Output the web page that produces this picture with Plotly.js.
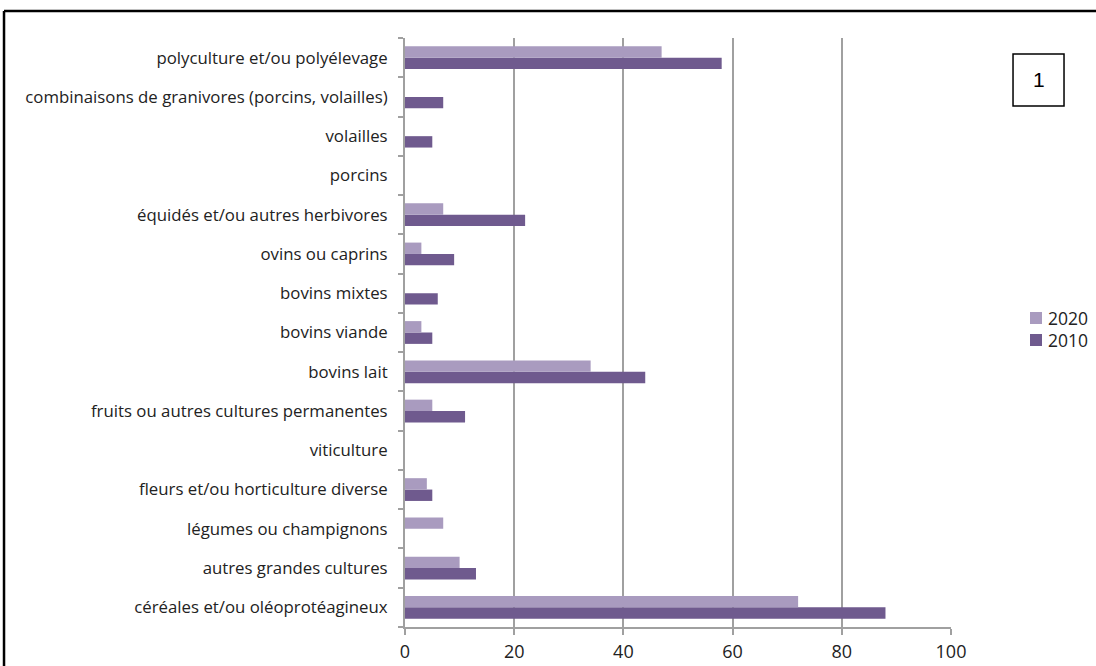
<!DOCTYPE html>
<html><head><meta charset="utf-8">
<script src="https://cdn.plot.ly/plotly-3.0.1.min.js"></script>
<style>html,body{margin:0;padding:0;background:#fff;}#chart{width:1096px;height:666px;}</style>
</head><body><div id="chart"></div>
<script>
const categories = [
  "céréales et/ou oléoprotéagineux",
  "autres grandes cultures",
  "légumes ou champignons",
  "fleurs et/ou horticulture diverse",
  "viticulture",
  "fruits ou autres cultures permanentes",
  "bovins lait",
  "bovins viande",
  "bovins mixtes",
  "ovins ou caprins",
  "équidés et/ou autres herbivores",
  "porcins",
  "volailles",
  "combinaisons de granivores (porcins, volailles)",
  "polyculture et/ou polyélevage"
];
const values2020 = [72, 10, 7, 4, 0, 5, 34, 3, 0, 3, 7, 0, 0, 0, 47];
const values2010 = [88, 13, 0, 5, 0, 11, 44, 5, 6, 9, 22, 0, 5, 7, 58];
const xTicks = [0, 20, 40, 60, 80, 100];
const seriesNames = ["2020", "2010"];
const seriesColors = ["#a99bbf", "#6f5a8e"];

const gridColor = '#a0a0a0';
const FONT = '"Open Sans", sans-serif';
const traces = [
  {type:'bar', orientation:'h', name:seriesNames[1], y:categories, x:values2010,
   marker:{color:seriesColors[1]}},
  {type:'bar', orientation:'h', name:seriesNames[0], y:categories, x:values2020,
   marker:{color:seriesColors[0]}}
];

// manual legend (kept outside plot without pushing margins)
const legendShapes = [], legendAnn = [];
const legY = [0.5246, 0.4873];
seriesNames.forEach((n, i) => {
  legendShapes.push({type:'rect', xref:'paper', yref:'paper', x0:1.1447, x1:1.1667,
    y0:legY[i]-0.0102, y1:legY[i]+0.0102, fillcolor:seriesColors[i], line:{width:0}});
  legendAnn.push({xref:'paper', yref:'paper', x:1.1740, y:legY[i], xanchor:'left', yanchor:'middle',
    text:n, showarrow:false, font:{family:FONT, size:17.5, color:'#222'}});
});

const layout = {
  width:1096, height:666,
  margin:{l:405, r:145, t:38, b:39, pad:0},
  paper_bgcolor:'#fff', plot_bgcolor:'#fff',
  barmode:'group', bargap:0.42, bargroupgap:0,
  showlegend:false,
  font:{family:FONT, color:'#222'},
  xaxis:{range:[0,100], tickvals:xTicks, ticktext:xTicks.map(String),
         showgrid:true, gridcolor:gridColor, gridwidth:2,
         showline:true, linecolor:gridColor, linewidth:2,
         ticks:'outside', ticklen:6, tickcolor:gridColor, tickwidth:2,
         ticklabelstandoff:1,
         tickfont:{family:FONT, size:18, color:'#222'}, zeroline:false, fixedrange:true},
  yaxis:{type:'category', categoryorder:'array', categoryarray:categories,
         showline:true, linecolor:gridColor, linewidth:2,
         ticks:'outside', ticklen:5, tickcolor:gridColor, tickwidth:2, tickson:'boundaries',
         ticklabelstandoff:12,
         tickfont:{family:FONT, size:16.8, color:'#222'}, fixedrange:true, showgrid:false},
  shapes:[
    {type:'line', xref:'paper', yref:'paper', x0:-0.7344, x1:1.5, y0:1.0458, y1:1.0458, line:{color:'#000', width:2.5}},
    {type:'line', xref:'paper', yref:'paper', x0:-0.7344, x1:-0.7344, y0:-0.2, y1:1.0458, line:{color:'#000', width:2.5}},
    {type:'rect', xref:'paper', yref:'paper', x0:1.1136, x1:1.2070, y0:0.8846, y1:0.9728, line:{color:'#000', width:1.5}}
  ].concat(legendShapes),
  annotations:[
    {xref:'paper', yref:'paper', x:1.1603, y:0.9287, xanchor:'center', yanchor:'middle', text:'1', showarrow:false,
     font:{family:'Liberation Sans, Arial, sans-serif', size:21, color:'#000'}}
  ].concat(legendAnn)
};
Plotly.newPlot('chart', traces, layout, {displayModeBar:false, staticPlot:true});
</script></body></html>
